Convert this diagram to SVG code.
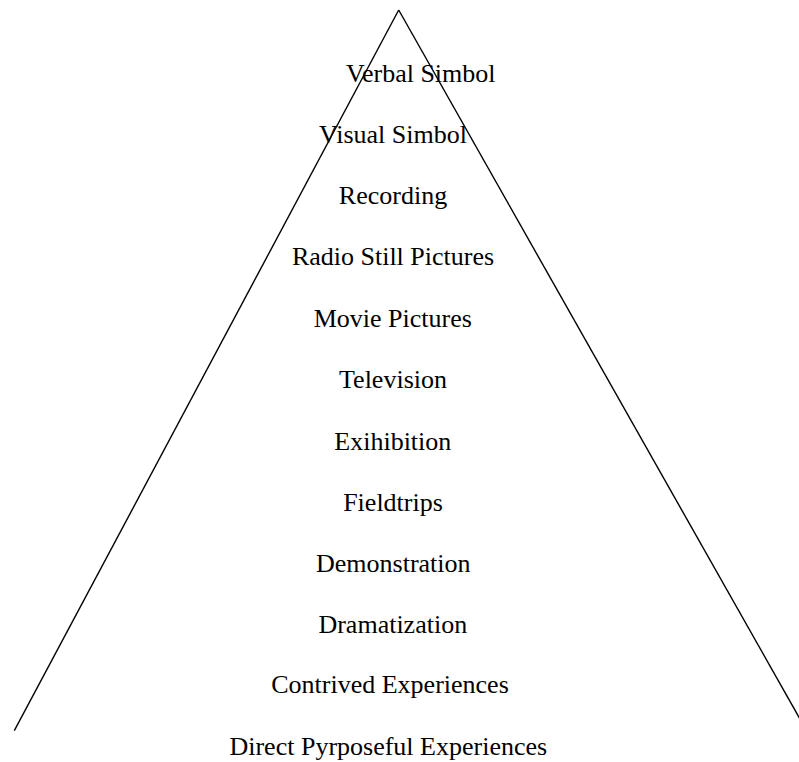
<svg xmlns="http://www.w3.org/2000/svg" width="799" height="762" viewBox="0 0 799 762">
<style>
.lbl{font-family:"Liberation Serif","Times New Roman",serif;font-size:26px;fill:#000;text-anchor:middle}
.edge{stroke:#000;stroke-width:1.4;fill:none}
</style>
<rect width="799" height="762" fill="#fff"/>
<g id="connectors">
<line class="edge" x1="398.7" y1="10" x2="14.3" y2="730.7"/>
<line class="edge" x1="398.7" y1="10" x2="800" y2="719"/>
</g>
<g id="n1"><text class="lbl" x="420.8" y="81.7">Verbal Simbol</text></g>
<g id="n2"><text class="lbl" x="393" y="143.3">Visual Simbol</text></g>
<g id="n3"><text class="lbl" x="393" y="203.8">Recording</text></g>
<g id="n4"><text class="lbl" x="393" y="265.2">Radio Still Pictures</text></g>
<g id="n5"><text class="lbl" x="392.8" y="326.5">Movie Pictures</text></g>
<g id="n6"><text class="lbl" x="393" y="388">Television</text></g>
<g id="n7"><text class="lbl" x="392.8" y="449.8">Exihibition</text></g>
<g id="n8"><text class="lbl" x="393" y="510.8">Fieldtrips</text></g>
<g id="n9"><text class="lbl" x="393.3" y="571.8">Demonstration</text></g>
<g id="n10"><text class="lbl" x="392.8" y="633.2">Dramatization</text></g>
<g id="n11"><text class="lbl" x="390" y="692.5">Contrived Experiences</text></g>
<g id="n12"><text class="lbl" x="388.3" y="755">Direct Pyrposeful Experiences</text></g>
</svg>
